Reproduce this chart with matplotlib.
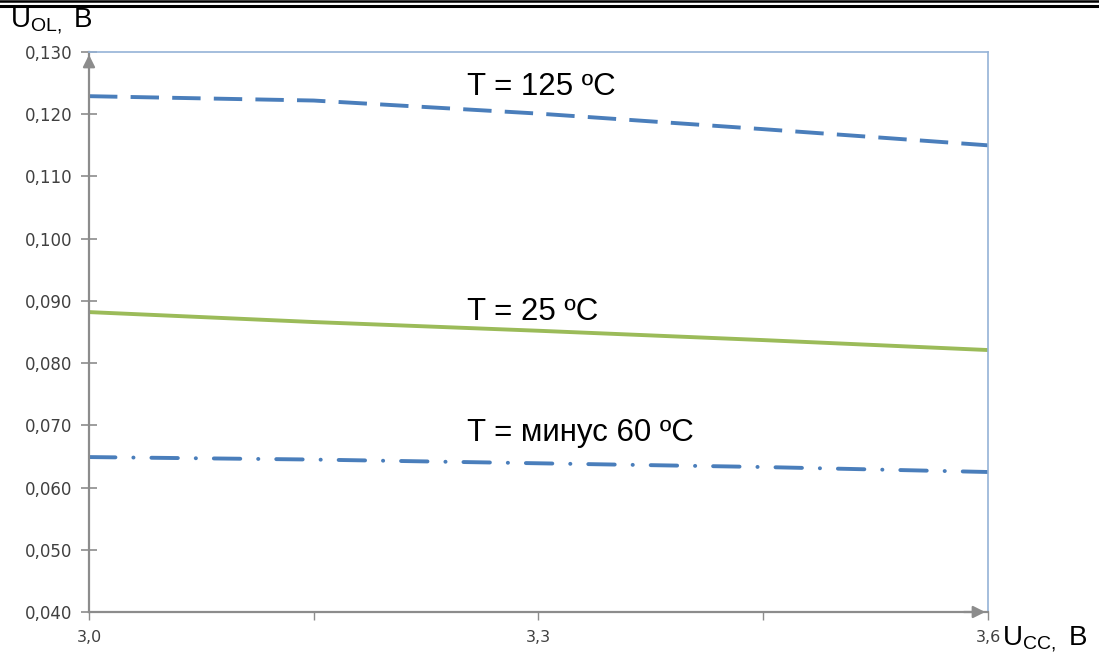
import matplotlib
matplotlib.use("Agg")
import matplotlib.pyplot as plt
from matplotlib.lines import Line2D

# Data
ucc = [3.0, 3.15, 3.3, 3.45, 3.6]
t125 = [0.1229, 0.1222, 0.1201, 0.1176, 0.1150]
t25 = [0.0882, 0.0866, 0.0852, 0.0837, 0.0821]
tm60 = [0.0649, 0.0645, 0.0639, 0.0633, 0.0625]
yticks = [0.040, 0.050, 0.060, 0.070, 0.080, 0.090, 0.100, 0.110, 0.120, 0.130]
xticks = [3.0, 3.15, 3.3, 3.45, 3.6]
xlabels = ["3,0", "", "3,3", "", "3,6"]
labels = ["T = 125 ºC", "T = 25 ºC", "T = минус 60 ºC"]

W, H = 1099, 660
fig = plt.figure(figsize=(W / 100, H / 100), dpi=100)
ax = fig.add_axes([89 / W, 1 - 612 / H, (988 - 89) / W, (612 - 52) / H])

blue = "#4a7ebb"
green = "#9bbb59"
ax.plot(ucc, t125, color=blue, lw=2.8, dashes=(7.3, 3.4), dash_capstyle="butt")
ax.plot(ucc, t25, color=green, lw=2.8)
ax.plot(ucc, tm60, color=blue, lw=2.8, dashes=(6.8, 4.6, 0.05, 4.6), dash_capstyle="round")

ax.set_xlim(3.0, 3.6)
ax.set_ylim(0.040, 0.130)

gray = "#8c8c8c"
ax.spines["left"].set_color(gray)
ax.spines["bottom"].set_color(gray)
ax.spines["left"].set_linewidth(1.6)
ax.spines["bottom"].set_linewidth(1.6)
ax.spines["top"].set_color("#95b3d7")
ax.spines["right"].set_color("#95b3d7")
ax.spines["top"].set_linewidth(1.2)
ax.spines["right"].set_linewidth(1.2)

ax.set_yticks(yticks)
ax.set_yticklabels([f"{v:.3f}".replace(".", ",") for v in yticks])
ax.set_xticks(xticks)
ax.set_xticklabels(xlabels)
ax.tick_params(axis="y", direction="inout", length=12, width=1.2, color=gray,
               labelsize=12, labelcolor="#404040", pad=6)
ax.tick_params(axis="x", direction="out", length=6, width=1.0, color=gray,
               labelsize=11.5, labelcolor="#404040", pad=7)
for lab in ax.get_xticklabels() + ax.get_yticklabels():
    lab.set_family("DejaVu Sans")

# arrows on axes
ax.annotate("", xy=(0, 1.0), xytext=(0, 0.97), xycoords="axes fraction",
            arrowprops=dict(arrowstyle="-|>", color=gray, lw=1.6, mutation_scale=18))
ax.annotate("", xy=(1.0, 0), xytext=(0.97, 0), xycoords="axes fraction",
            arrowprops=dict(arrowstyle="-|>", color=gray, lw=1.6, mutation_scale=18))

# curve labels
tfont = dict(fontsize=22.5, family="Liberation Sans", color="black")
fig.text(467 / W, 1 - 87 / H, labels[0], va="center", ha="left", **tfont)
fig.text(467 / W, 1 - 312 / H, labels[1], va="center", ha="left", **tfont)
fig.text(467 / W, 1 - 433 / H, labels[2], va="center", ha="left", **tfont)

# axis titles
fig.text(10 / W, 1 - 22 / H, r"U$_{\mathregular{OL,}}$ B", va="center", ha="left",
         fontsize=20, family="Liberation Sans")
fig.text(1002 / W, 1 - 640 / H, r"U$_{\mathregular{CC,}}$ B", va="center", ha="left",
         fontsize=20, family="Liberation Sans")

# document border lines at the top
fig.add_artist(Line2D([0, 1], [1 - 1 / H, 1 - 1 / H], transform=fig.transFigure, color="black", lw=1.8))
fig.add_artist(Line2D([0, 1], [1 - 5.5 / H, 1 - 5.5 / H], transform=fig.transFigure, color="black", lw=2.2))

fig.savefig("out.png", dpi=100)
